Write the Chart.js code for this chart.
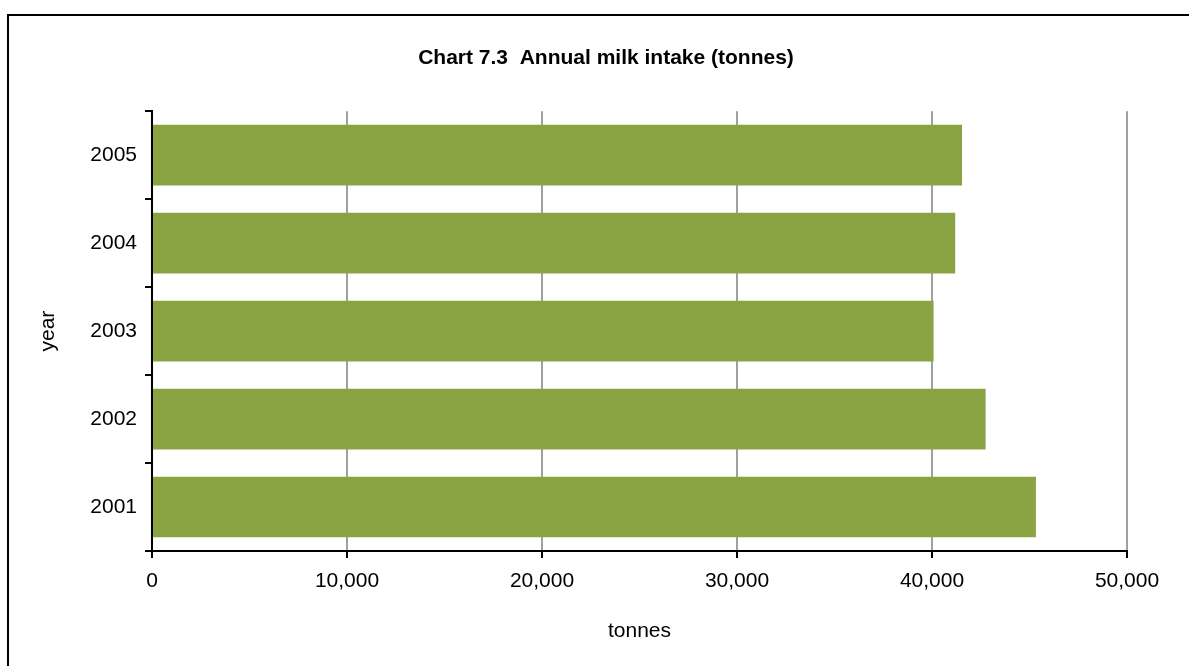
<!DOCTYPE html>
<html>
<head>
<meta charset="utf-8">
<script src="https://cdn.jsdelivr.net/npm/chart.js@4"></script>
<style>
  body { margin: 0; background: #fff; overflow: hidden; }
  #frame { position: absolute; left: 7px; top: 14px; width: 1220px; height: 700px; border: 2px solid #000; box-sizing: border-box; }
  #wrap { position: absolute; left: 0; top: 0; width: 1212px; height: 666px; }
</style>
</head>
<body>
<div id="frame"></div>
<div id="wrap"><canvas id="myChart" width="1212" height="666"></canvas></div>
<script>
const years = ["2005", "2004", "2003", "2002", "2001"];
const intake = [41540, 41190, 40080, 42750, 45330];
const xTicks = [0, 10000, 20000, 30000, 40000, 50000];

const FONT = "'Liberation Sans', Arial, sans-serif";
const ctx = document.getElementById("myChart");

new Chart(ctx, {
  type: "bar",
  data: {
    labels: years,
    datasets: [
      {
        label: "tonnes",
        data: intake,
        backgroundColor: "#8aa343",
        borderWidth: 0,
        barPercentage: 0.69,
        categoryPercentage: 1,
      },
    ],
  },
  options: {
    indexAxis: "y",
    responsive: false,
    animation: false,
    layout: { padding: 0 },
    plugins: {
      legend: { display: false },
      tooltip: { enabled: false },
      title: {
        display: true,
        text: "Chart 7.3  Annual milk intake (tonnes)",
        color: "#000",
        font: { family: FONT, size: 21, weight: "bold", lineHeight: 1.2 },
        padding: { top: 46, bottom: 40 },
      },
    },
    scales: {
      x: {
        min: xTicks[0],
        max: xTicks[xTicks.length - 1],
        afterFit: (scale) => { scale.height = 115; },
        afterBuildTicks: (scale) => { scale.ticks = xTicks.map((v) => ({ value: v })); },
        ticks: {
          color: "#000",
          padding: 11,
          font: { family: FONT, size: 21, lineHeight: 1.2 },
          callback: (v) => Number(v).toLocaleString("en-US"),
        },
        grid: {
          color: (c) => (c.tick && c.tick.value === 0 ? "#000" : "#a0a0a0"),
          lineWidth: 2,
          tickColor: "#000",
          tickLength: 7,
        },
        border: { color: "#000", width: 2 },
        title: {
          display: true,
          text: "tonnes",
          color: "#000",
          font: { family: FONT, size: 21, lineHeight: 1.2 },
          padding: { top: 0, bottom: 22 },
        },
      },
      y: {
        afterFit: (scale) => { scale.width = 152; },
        ticks: {
          color: "#000",
          padding: 8,
          font: { family: FONT, size: 21, lineHeight: 1.2 },
        },
        grid: {
          drawOnChartArea: false,
          offset: true,
          lineWidth: 2,
          tickColor: "#000",
          tickLength: 7,
        },
        border: { color: "#000", width: 2 },
        title: {
          display: true,
          text: "year",
          color: "#000",
          font: { family: FONT, size: 21, lineHeight: 1.2 },
          padding: { top: 36, bottom: 0 },
        },
      },
      // empty right-hand axis that only reserves the margin beside the plot
      yRight: {
        type: "category",
        position: "right",
        afterFit: (scale) => { scale.width = 85; },
        ticks: { display: false },
        grid: { display: false },
        border: { display: false },
      },
    },
  },
});
</script>
</body>
</html>
